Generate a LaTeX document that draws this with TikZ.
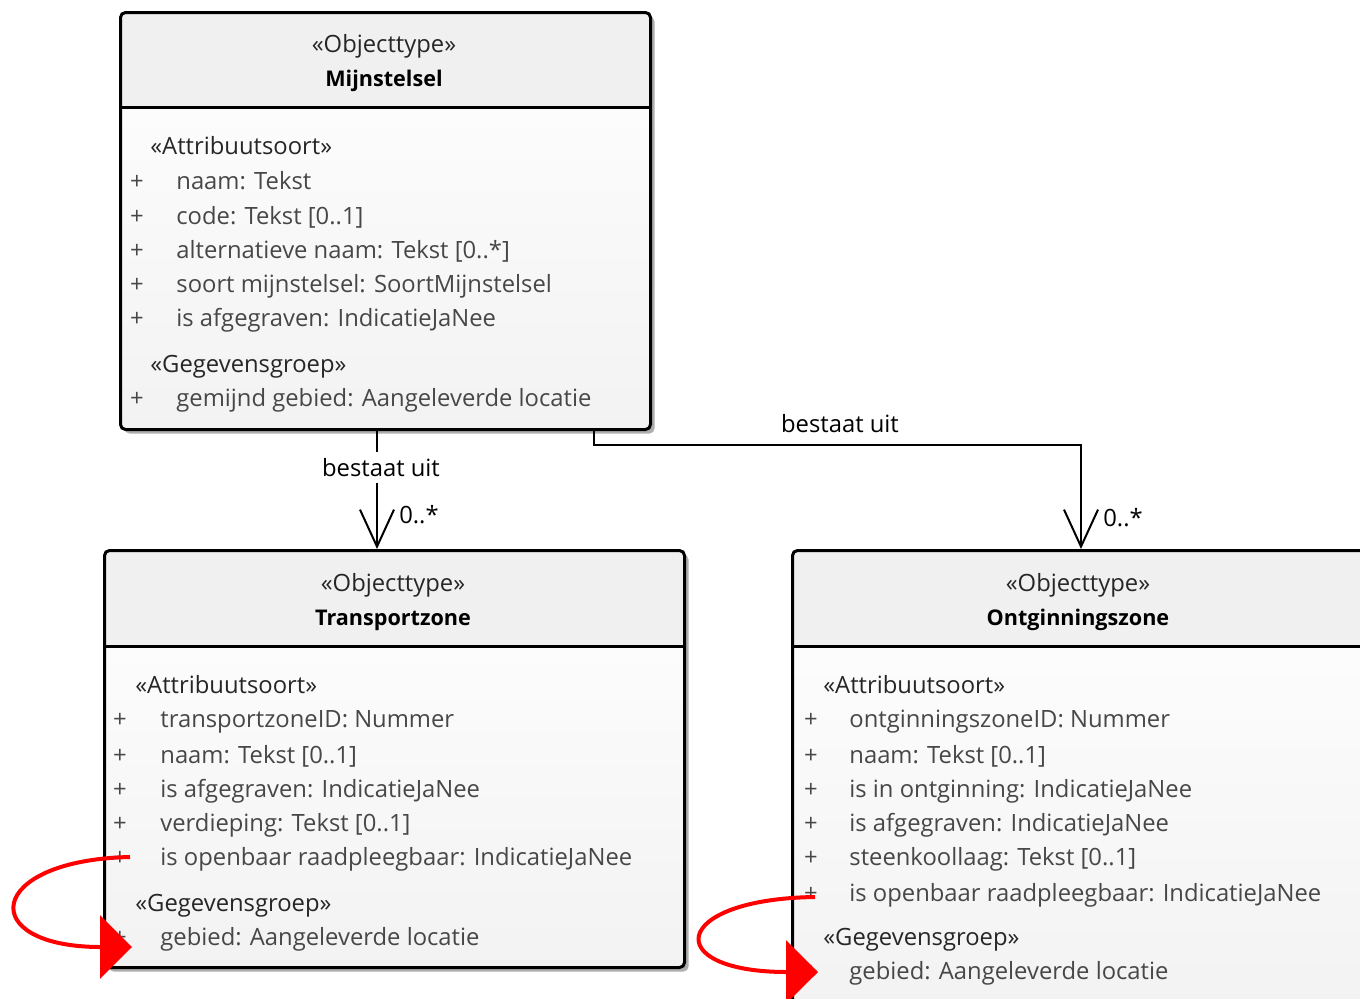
\documentclass[tikz,border=0pt]{standalone}
\usepackage{fontspec}
\setmainfont{Open Sans}
\usetikzlibrary{arrows.meta,shadows}
\begin{document}
\begin{tikzpicture}[x=0.5pt,y=-0.5pt,
  every node/.style={font=\fontsize{11.9}{14}\selectfont, inner sep=0pt},
  box/.style 2 args={draw=black, line width=1.5pt, rounded corners=2.5pt,
    anchor=north west, minimum width=#1, minimum height=#2,
    top color=white, bottom color=black!5,
    drop shadow={shadow xshift=2pt, shadow yshift=-2pt, fill=black!45, opacity=0.7},
    path picture={\fill[black!6] (path picture bounding box.north west) rectangle ([yshift=-48pt]path picture bounding box.north east);}},
  sep/.style={draw=black, line width=1.5pt},
  txt/.style={yshift=-1pt},
  attr/.style={txt, anchor=mid west, text=black!72},
  plus/.style={txt, anchor=mid, text=black!72},
  stereo/.style={txt, anchor=mid west, text=black!85},
  ttl/.style={txt, anchor=mid, text=black!85},
  clsname/.style={txt, anchor=mid, text=black, font=\fontsize{10.8}{13}\selectfont\bfseries},
  lbl/.style={txt, anchor=mid, text=black},
  assoc/.style={draw=black, line width=1pt, -{Straight Barb[length=18.5pt,width=17pt,line width=1pt]}},
  redarr/.style={draw=red, line width=2pt, -{Triangle[length=16pt,width=31.5pt]}}
]
\useasboundingbox (0,0) rectangle (1360,998);
\clip (0,0) rectangle (1360,998);
\fill[white] (0,0) rectangle (1360,998);

% ---- Mijnstelsel ----
\node[box={265pt}{208.5pt}] (mij) at (119,11) {};
\draw[sep] ([yshift=-48pt]mij.north west) -- ([yshift=-48pt]mij.north east);
\node[ttl] (mijs) at (384,45) {«Objecttype»};
\node[clsname] (mijn) at (384,79) {Mijnstelsel};
\node[stereo] (mija) at (150,147) {«Attribuutsoort»};
\node[plus] (mp1) at (137,182) {+}; \node[attr] (ma1) at (176,182) {naam: Tekst};
\node[plus] (mp2) at (137,217) {+}; \node[attr] (ma2) at (176,217) {code: Tekst [0..1]};
\node[plus] (mp3) at (137,251) {+}; \node[attr] (ma3) at (176,251) {alternatieve naam: Tekst [0..*]};
\node[plus] (mp4) at (137,285) {+}; \node[attr] (ma4) at (176,285) {soort mijnstelsel: SoortMijnstelsel};
\node[plus] (mp5) at (137,319) {+}; \node[attr] (ma5) at (176,319) {is afgegraven: IndicatieJaNee};
\node[stereo] (mijg) at (150,365) {«Gegevensgroep»};
\node[plus] (mp6) at (137,399) {+}; \node[attr] (ma6) at (176,399) {gemijnd gebied: Aangeleverde locatie};

% ---- Transportzone ----
\node[box={290pt}{208.5pt}] (tra) at (103,549) {};
\draw[sep] ([yshift=-48.5pt]tra.north west) -- ([yshift=-48.5pt]tra.north east);
\node[ttl] (tras) at (393,584) {«Objecttype»};
\node[clsname] (tran) at (393,618) {Transportzone};
\node[stereo] (traa) at (135,686) {«Attribuutsoort»};
\node[plus] (tp1) at (120,720) {+}; \node[attr] (ta1) at (160,720) {transportzoneID: Nummer};
\node[plus] (tp2) at (120,756) {+}; \node[attr] (ta2) at (160,756) {naam: Tekst [0..1]};
\node[plus] (tp3) at (120,790) {+}; \node[attr] (ta3) at (160,790) {is afgegraven: IndicatieJaNee};
\node[plus] (tp4) at (120,824) {+}; \node[attr] (ta4) at (160,824) {verdieping: Tekst [0..1]};
\node[plus] (tp5) at (120,858) {+}; \node[attr] (ta5) at (160,858) {is openbaar raadpleegbaar: IndicatieJaNee};
\node[stereo] (trag) at (135,904) {«Gegevensgroep»};
\node[plus] (tp6) at (120,938) {+}; \node[attr] (ta6) at (160,938) {gebied: Aangeleverde locatie};

% ---- Ontginningszone ----
\node[box={305pt}{230pt}] (ont) at (791,549) {};
\draw[sep] ([yshift=-48.5pt]ont.north west) -- ([yshift=-48.5pt]ont.north east);
\node[ttl] (onts) at (1078,584) {«Objecttype»};
\node[clsname] (ontn) at (1078,618) {Ontginningszone};
\node[stereo] (onta) at (823,686) {«Attribuutsoort»};
\node[plus] (op1) at (811,720) {+}; \node[attr] (oa1) at (849,720) {ontginningszoneID: Nummer};
\node[plus] (op2) at (811,756) {+}; \node[attr] (oa2) at (849,756) {naam: Tekst [0..1]};
\node[plus] (op3) at (811,790) {+}; \node[attr] (oa3) at (849,790) {is in ontginning: IndicatieJaNee};
\node[plus] (op4) at (811,824) {+}; \node[attr] (oa4) at (849,824) {is afgegraven: IndicatieJaNee};
\node[plus] (op5) at (811,858) {+}; \node[attr] (oa5) at (849,858) {steenkoollaag: Tekst [0..1]};
\node[plus] (op6) at (811,894) {+}; \node[attr] (oa6) at (849,894) {is openbaar raadpleegbaar: IndicatieJaNee};
\node[stereo] (ontg) at (823,938) {«Gegevensgroep»};
\node[plus] (op7) at (811,972) {+}; \node[attr] (oa7) at (849,972) {gebied: Aangeleverde locatie};

% ---- connectors ----
\coordinate (c1) at (377,0);
\draw[assoc] (mij.south -| c1) -- (tra.north -| c1);
\node[lbl, fill=white, inner ysep=3pt, inner xsep=1pt] (l1) at (381,469) {bestaat uit};
\node[lbl] (n1) at (419,516) {0..*};

\coordinate (k1) at (594,445);
\coordinate (k2) at (1081,445);
\draw[assoc] (mij.south -| k1) -- (k1) -- (k2) -- (ont.north -| k2);
\node[lbl] (l2) at (840,425) {bestaat uit};
\node[lbl] (n2) at (1123,519) {0..*};

% ---- red self-loops ----
\coordinate (r1s) at (130,857);
\coordinate (r1e) at (132,947);
\draw[redarr] (r1s) .. controls (-15,860) and (-25,947) .. (r1e);
\coordinate (r2s) at (815,897);
\coordinate (r2e) at (818,972);
\draw[redarr] (r2s) .. controls (670,899) and (660,972) .. (r2e);
\end{tikzpicture}
\end{document}
